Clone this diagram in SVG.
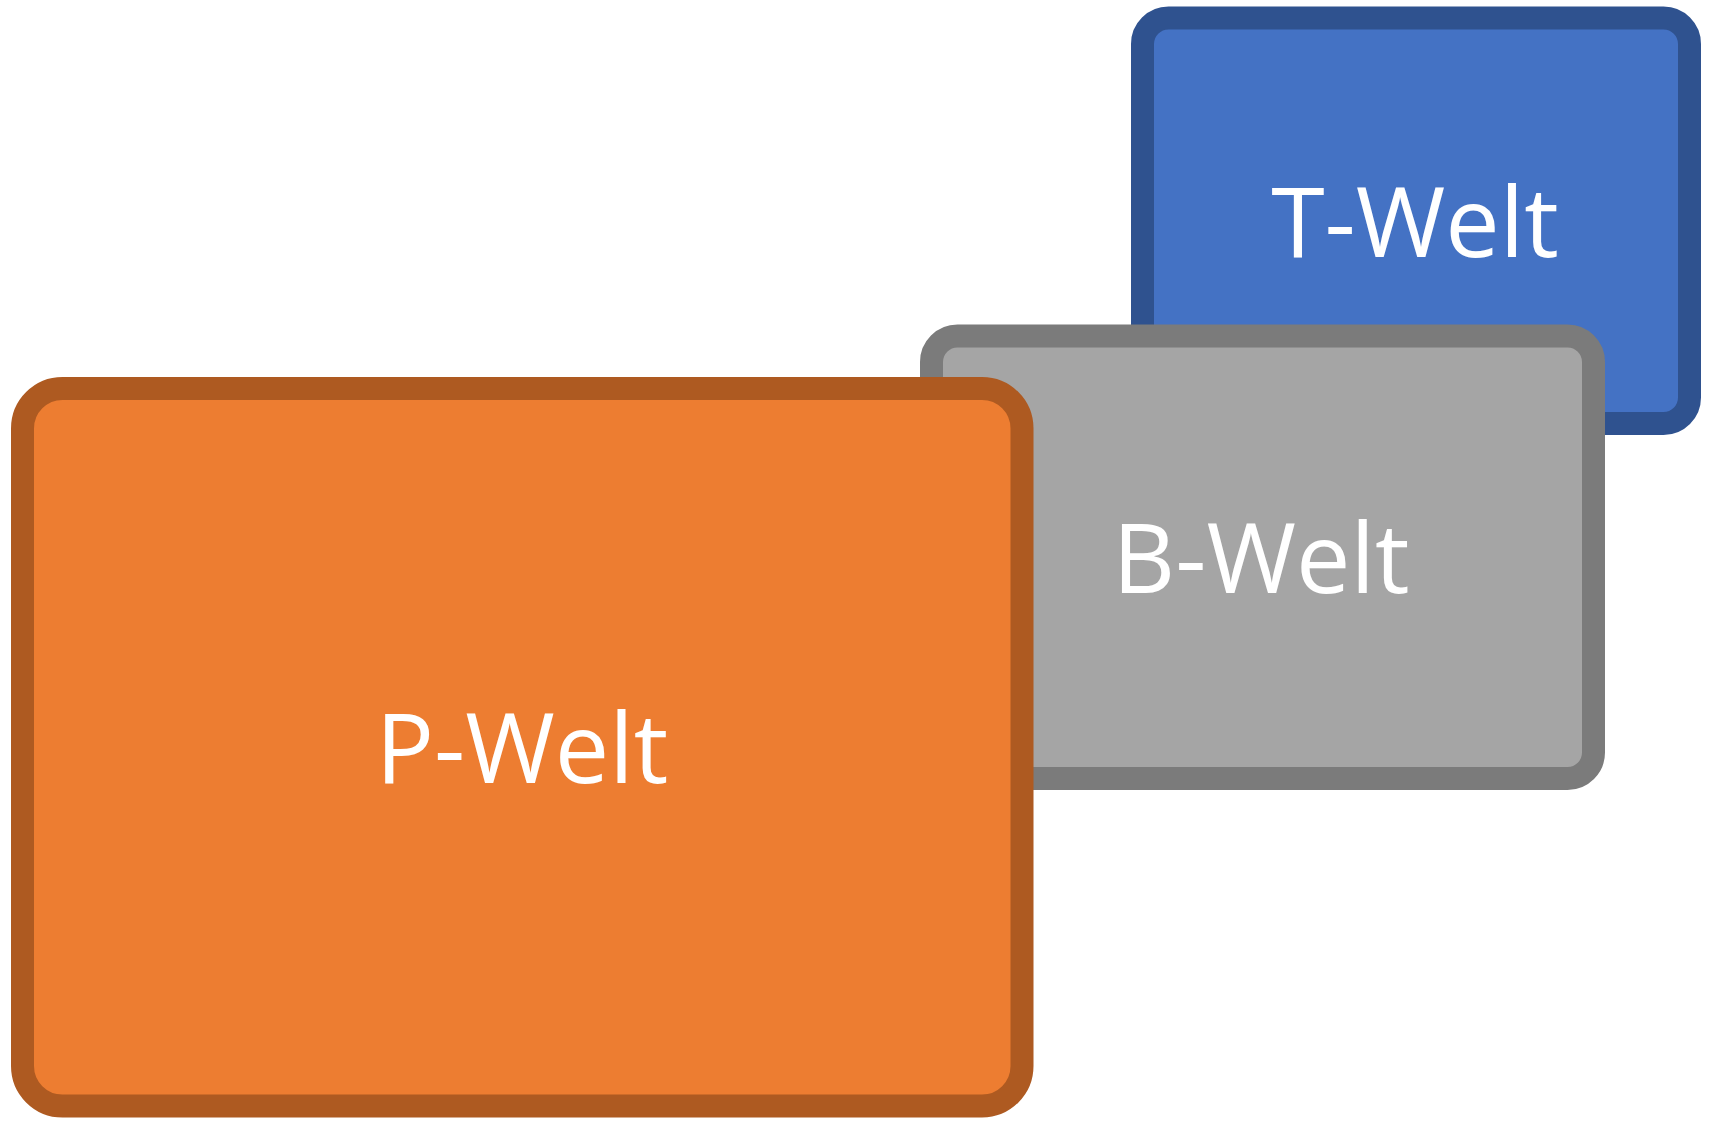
<svg xmlns="http://www.w3.org/2000/svg" width="1713" height="1133" viewBox="0 0 1713 1133">
<style>
.box{stroke-width:23}
.lbl{font-family:"Open Sans","Liberation Sans",sans-serif;font-size:97px;fill:#FFFFFF;text-anchor:middle}
</style>
<rect width="1713" height="1133" fill="#FFFFFF"/>
<g id="t-welt">
<rect class="box" x="1142.5" y="18" width="547" height="405.5" rx="26" fill="#4472C4" stroke="#2F528F"/>
<text class="lbl" x="1415" y="257">T-Welt</text>
</g>
<g id="b-welt">
<rect class="box" x="931.5" y="336" width="662" height="442.5" rx="26" fill="#A5A5A5" stroke="#7B7B7B"/>
<text class="lbl" x="1261" y="593">B-Welt</text>
</g>
<g id="p-welt">
<rect class="box" x="22.5" y="388.5" width="999.5" height="717.5" rx="40" fill="#ED7D31" stroke="#AE5A21"/>
<text class="lbl" x="522" y="783">P-Welt</text>
</g>
<g id="connectors"></g>
</svg>
